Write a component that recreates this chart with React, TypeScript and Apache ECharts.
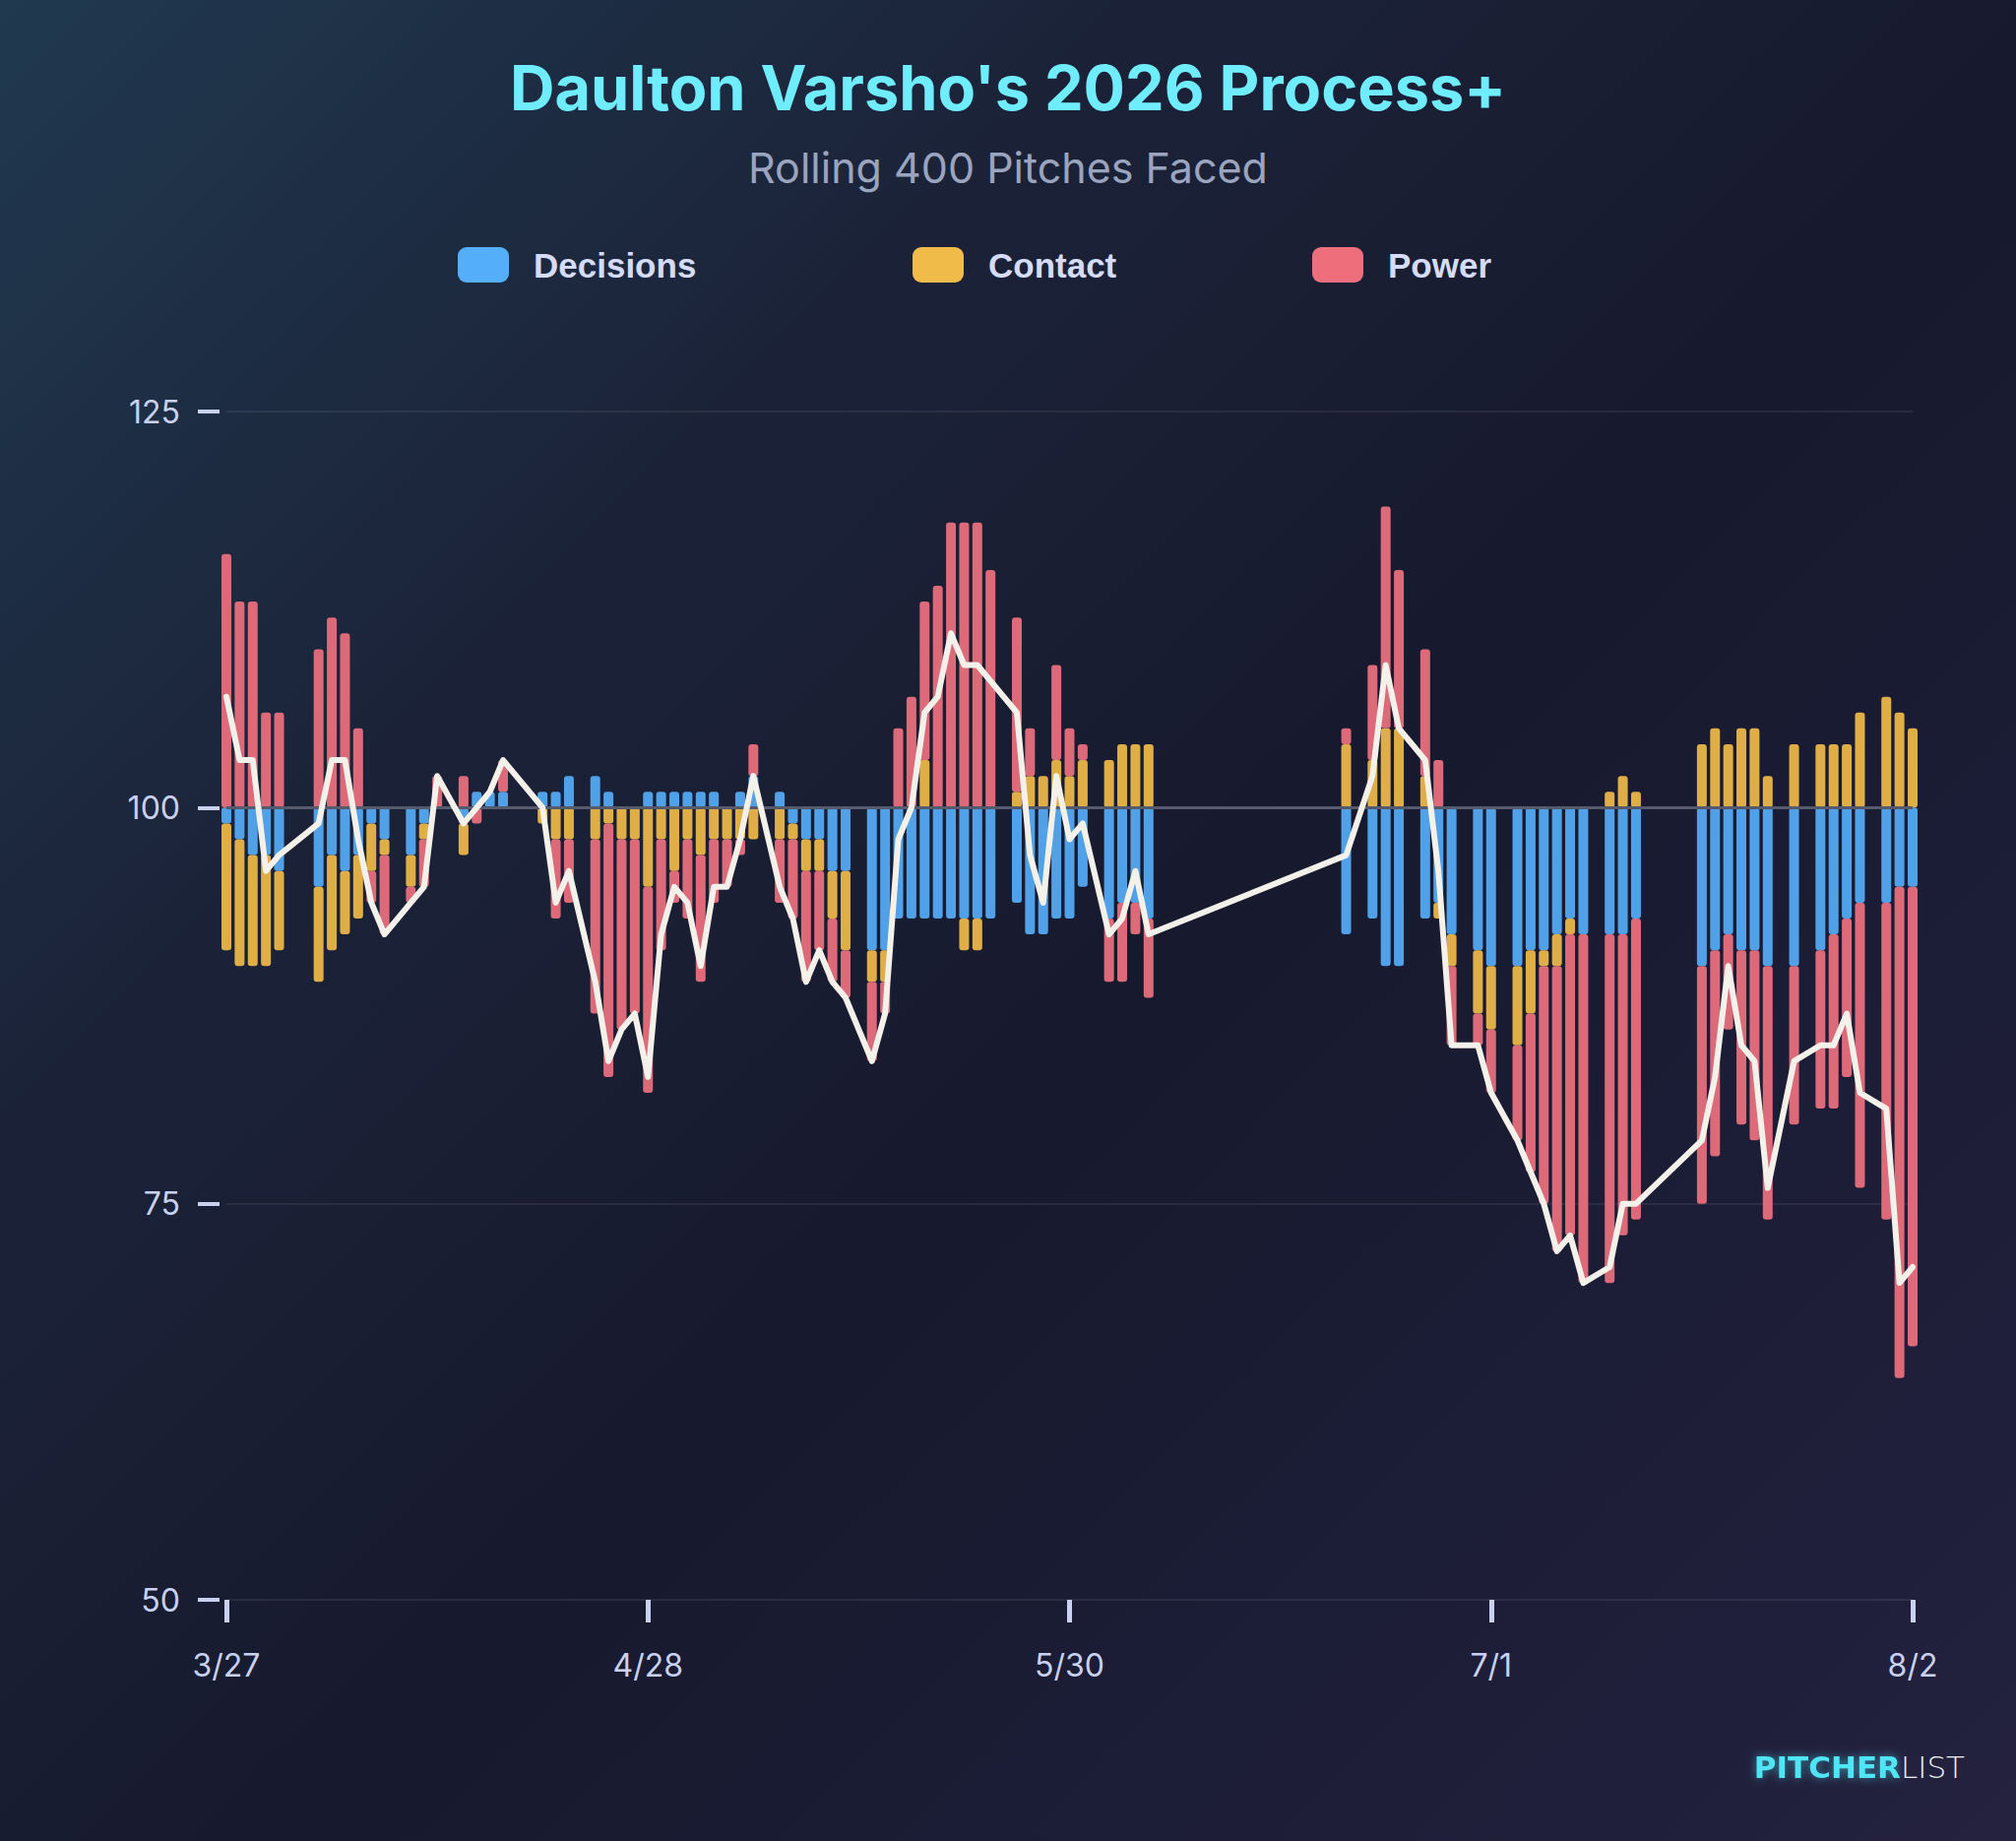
import React, { useEffect, useRef } from "react";
import * as echarts from "echarts";

// Dates with a data point (2026 season)
const dates = [
  "3/27", "3/28", "3/29", "3/30", "3/31", "4/3", "4/4", "4/5", "4/6", "4/7", "4/8",
  "4/10", "4/11", "4/12", "4/14", "4/15", "4/16", "4/17", "4/20", "4/21", "4/22",
  "4/24", "4/25", "4/26", "4/27", "4/28", "4/29", "4/30", "5/1", "5/2", "5/3", "5/4",
  "5/5", "5/6", "5/8", "5/9", "5/10", "5/11", "5/12", "5/13", "5/15", "5/16", "5/17",
  "5/18", "5/19", "5/20", "5/21", "5/22", "5/23", "5/24", "5/26", "5/27", "5/28",
  "5/29", "5/30", "5/31", "6/2", "6/3", "6/4", "6/5", "6/20", "6/22", "6/23", "6/24",
  "6/26", "6/27", "6/28", "6/30", "7/1", "7/3", "7/4", "7/5", "7/6", "7/7", "7/8",
  "7/10", "7/11", "7/12", "7/17", "7/18", "7/19", "7/20", "7/21", "7/22", "7/24",
  "7/26", "7/27", "7/28", "7/29", "7/31", "8/1", "8/2",
];

// Deviation from 100 for each component
const decisions = [
  -1, -2, -3, -3, -4, -5, -3, -4, -3, -1, -2,
  -3, -1, 0, -1, 1, 1, 1, 1, 1, 2,
  2, 1, 0, 0, 1, 1, 1, 1, 1, 1, 0,
  1, 2, 1, -1, -2, -2, -4, -4, -9, -9, -7,
  -7, -7, -7, -7, -7, -7, -7, -6, -8, -8,
  -7, -7, -5, -7, -6, -6, -7, -8, -7, -10, -10,
  -7, -6, -8, -9, -10, -10, -9, -9, -8, -7, -8,
  -8, -8, -7, -10, -9, -8, -9, -9, -10, -10,
  -9, -8, -7, -6, -6, -5, -5,
];

const contact = [
  -8, -8, -7, -7, -5, -6, -6, -4, -4, -3, -1,
  -2, -1, 0, -2, 0, 0, 0, -1, -2, -2,
  -2, -1, -2, -2, -5, -2, -4, -2, -3, -2, -2,
  -2, -2, -2, -1, -2, -2, -3, -5, -2, -2, 0,
  0, 3, 0, 0, -2, -2, 0, 1, 2, 2,
  3, 2, 3, 3, 4, 4, 4, 4, 3, 5, 5,
  2, -1, -2, -4, -4, -5, -4, -1, -2, -1, 0,
  1, 2, 1, 4, 5, 4, 5, 5, 2, 4,
  4, 4, 4, 6, 7, 6, 5,
];

const power = [
  16, 13, 13, 6, 6, 10, 12, 11, 5, -2, -5,
  -1, -3, 2, 2, -1, 0, 2, 0, -5, -4,
  -11, -16, -12, -11, -13, -7, -2, -5, -8, -4, -3,
  -1, 2, -4, -5, -7, -5, -4, -3, -5, -2, 5,
  7, 10, 14, 18, 18, 18, 15, 11, 3, 0,
  6, 3, 1, -4, -5, -2, -5, 1, 6, 14, 10,
  8, 3, -5, -2, -4, -6, -10, -15, -18, -19, -22,
  -22, -19, -19, -15, -13, -6, -11, -12, -16, -10,
  -10, -11, -10, -18, -20, -31, -29,
];

const yTickValues = [50, 75, 100, 125];
const xTickLabels = ["3/27", "4/28", "5/30", "7/1", "8/2"];

const BASE = 100;
const SEASON_DAYS = 129;
const START = Date.UTC(2026, 2, 27);
const dayIndex = (s: string) => {
  const [m, d] = s.split("/").map(Number);
  return Math.round((Date.UTC(2026, m - 1, d) - START) / 86400000);
};
const dayLabel = (i: number) => {
  const dt = new Date(START + i * 86400000);
  return `${dt.getUTCMonth() + 1}/${dt.getUTCDate()}`;
};

export default function App() {
  const ref = useRef<HTMLDivElement>(null);

  useEffect(() => {
    document.body.style.margin = "0";
    if (!ref.current) return;
    const chart = echarts.init(ref.current, undefined, { renderer: "svg" });

    const categories = Array.from({ length: SEASON_DAYS }, (_, i) => dayLabel(i));
    const idx = dates.map(dayIndex);
    const spread = (vals: number[]) => {
      const out: (number | null)[] = new Array(SEASON_DAYS).fill(null);
      idx.forEach((x, i) => {
        out[x] = vals[i];
      });
      return out;
    };
    const total = idx.map((_, i) => decisions[i] + contact[i] + power[i]);

    const labelColor = "#C9D1F2";
    const barSeries = [
      { name: "Decisions", values: decisions, color: "#50A1E8" },
      { name: "Contact", values: contact, color: "#E0AE46" },
      { name: "Power", values: power, color: "#DC6A78" },
    ].map((s) => ({
      name: s.name,
      type: "bar",
      stack: "process",
      barWidth: 10,
      z: 3,
      itemStyle: { color: s.color, borderRadius: 3 },
      data: spread(s.values),
    }));

    const legendColors = ["#55AEF9", "#F1BB4A", "#EE6F7B"];
    const legendNames = ["Decisions", "Contact", "Power"];
    const legendLefts = [465, 927, 1333];

    chart.setOption({
      animation: false,
      grid: { left: 230, right: 105, top: 418, bottom: 245 },
      legend: legendNames.map((n, i) => ({
        data: [{ name: n, itemStyle: { color: legendColors[i] } }],
        left: legendLefts[i],
        top: 251,
        padding: 0,
        itemWidth: 52,
        itemHeight: 36,
        icon: "roundRect",
        selectedMode: false,
        textStyle: {
          color: "#D4DCFA",
          fontSize: 35,
          fontWeight: "bold",
          fontFamily: "Liberation Sans, Arial, sans-serif",
          padding: [0, 0, 0, 20],
        },
      })),
      xAxis: {
        type: "category",
        data: categories,
        boundaryGap: false,
        axisLine: { show: true, onZero: false, lineStyle: { color: "rgba(0,0,0,0)" } },
        splitLine: { show: false },
        axisTick: {
          show: true,
          interval: 31,
          length: 23,
          lineStyle: { color: labelColor, width: 5 },
        },
        axisLabel: {
          interval: 31,
          margin: 50,
          color: labelColor,
          fontSize: 32,
          fontFamily: "Inter, sans-serif",
          formatter: (v: string, i: number) => xTickLabels[Math.round(i / 32)] ?? v,
        },
      },
      yAxis: {
        type: "value",
        min: yTickValues[0] - BASE,
        max: yTickValues[yTickValues.length - 1] - BASE,
        interval: 25,
        offset: 7,
        axisLine: { show: false },
        axisTick: { show: true, length: 22, lineStyle: { color: labelColor, width: 4 } },
        splitLine: { show: true, lineStyle: { color: "rgba(255,255,255,0.07)", width: 2 } },
        axisLabel: {
          margin: 40,
          color: labelColor,
          fontSize: 32,
          fontFamily: "Inter, sans-serif",
          formatter: (v: number) => String(v + BASE),
        },
      },
      graphic: [
        {
          type: "text",
          x: 1024,
          y: 89,
          style: {
            text: "Daulton Varsho's 2026 Process+",
            fill: "#6FEDFF",
            fontSize: 63,
            fontWeight: "bold",
            fontFamily: "Inter, sans-serif",
            align: "center",
            verticalAlign: "middle",
          },
        },
        {
          type: "text",
          x: 1024,
          y: 170,
          style: {
            text: "Rolling 400 Pitches Faced",
            fill: "#9AA4BE",
            fontSize: 43,
            fontFamily: "Inter, sans-serif",
            align: "center",
            verticalAlign: "middle",
          },
        },
        {
          type: "text",
          x: 1996,
          y: 1795,
          style: {
            text: "{a|PITCHER}{b|LIST}",
            align: "right",
            verticalAlign: "middle",
            rich: {
              a: {
                fill: "#4FE4F6",
                fontSize: 31,
                fontWeight: "bold",
                fontFamily: "DejaVu Sans, sans-serif",
                textShadowColor: "rgba(79,228,246,0.55)",
                textShadowBlur: 10,
              },
              b: {
                fill: "#EEF1F7",
                fontSize: 31,
                fontWeight: 200,
                fontFamily: "DejaVu Sans, sans-serif",
              },
            },
          },
        },
      ],
      series: [
        {
          name: "baseline",
          type: "line",
          data: [],
          z: 1,
          silent: true,
          markLine: {
            silent: true,
            symbol: "none",
            label: { show: false },
            lineStyle: { color: "#555B6D", width: 3, type: "solid" },
            data: [{ yAxis: 0 }],
          },
        },
        ...barSeries,
        {
          name: "Process+",
          type: "line",
          z: 6,
          symbol: "none",
          showSymbol: false,
          connectNulls: true,
          lineStyle: { color: "#F4F1EA", width: 6, cap: "round", join: "round" },
          data: spread(total),
        },
      ],
    });

    return () => chart.dispose();
  }, []);

  return (
    <div
      ref={ref}
      style={{
        width: 2048,
        height: 1870,
        background:
          "linear-gradient(135deg, #20394f 0%, #1b2238 30%, #171a2e 55%, #1d1d38 80%, #24223f 100%)",
      }}
    />
  );
}
